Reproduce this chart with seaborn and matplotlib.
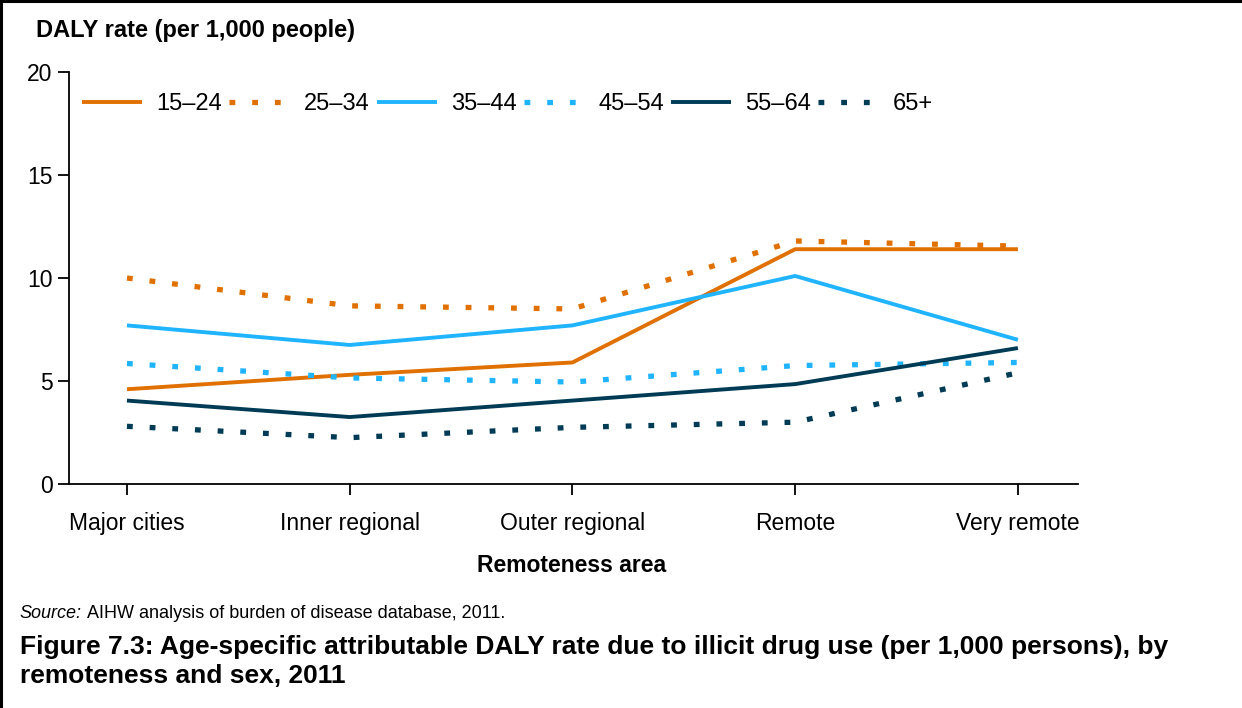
import numpy as np
import pandas as pd
import matplotlib
matplotlib.use("Agg")
import matplotlib.pyplot as plt
from matplotlib.lines import Line2D
import seaborn as sns

areas = ["Major cities", "Inner regional", "Outer regional", "Remote", "Very remote"]
ages = ["15\u201324", "25\u201334", "35\u201344", "45\u201354", "55\u201364", "65+"]

r15_24 = [4.6, 5.3, 5.9, 11.4, 11.4]
r25_34 = [10.0, 8.65, 8.5, 11.8, 11.55]
r35_44 = [7.7, 6.75, 7.7, 10.1, 7.0]
r45_54 = [5.85, 5.15, 4.95, 5.75, 5.9]
r55_64 = [4.05, 3.25, 4.05, 4.85, 6.6]
r65_plus = [2.8, 2.25, 2.75, 3.0, 5.4]

orange = "#E07000"
blue = "#20B4FF"
navy = "#003B55"
colors = {ages[0]: orange, ages[1]: orange, ages[2]: blue,
          ages[3]: blue, ages[4]: navy, ages[5]: navy}
dot = (1.1, 3.2)
dashes = {ages[0]: "", ages[1]: dot, ages[2]: "",
          ages[3]: dot, ages[4]: "", ages[5]: dot}

rows = []
for age, vals in zip(ages, [r15_24, r25_34, r35_44, r45_54, r55_64, r65_plus]):
    for i, v in enumerate(vals):
        rows.append({"area": i, "age": age, "rate": v})
df = pd.DataFrame(rows)

sns.set_theme(style="ticks")
plt.rcParams['font.family'] = ['Liberation Sans', 'DejaVu Sans']
plt.rcParams['text.color'] = 'black'
plt.rcParams['xtick.color'] = 'black'
plt.rcParams['ytick.color'] = 'black'

fig = plt.figure(figsize=(12.42, 7.08), dpi=100)
ax = fig.add_axes([0.0556, 0.3164, 0.8124, 0.5818])

sns.lineplot(data=df, x="area", y="rate", hue="age", style="age",
             palette=colors, dashes=dashes, hue_order=ages, style_order=ages,
             legend=False, ax=ax)
for ln, age in zip(ax.lines, ages):
    if dashes[age] == "":
        ln.set_linewidth(2.8)
    else:
        ln.set_linewidth(3.8)
        ln.set_dash_capstyle("butt")
    ln.set_solid_capstyle("butt")

ax.set_xlim(-0.26, 4.27)
ax.set_ylim(0, 20)
ax.set_yticks([0, 5, 10, 15, 20])
ax.set_xticks(range(len(areas)))
ax.set_xticklabels(areas)
ax.tick_params(axis="both", labelsize=16.5, labelcolor="black", length=8, width=1.3)
ax.tick_params(axis="x", pad=12)
ax.tick_params(axis="y", pad=4)
for s in ["top", "right"]:
    ax.spines[s].set_visible(False)
for s in ["left", "bottom"]:
    ax.spines[s].set_linewidth(1.3)
    ax.spines[s].set_color("black")
ax.set_xlabel("")
ax.set_ylabel("")

ax.legend(handles=ax.lines, labels=ages, ncol=6, loc="upper left",
          bbox_to_anchor=(-0.008, 1.0), frameon=False, fontsize=17,
          handlelength=2.55, handletextpad=0.6, columnspacing=0.3)

fig.text(0.029, 0.957, "DALY rate (per 1,000 people)", fontsize=17,
         fontweight="bold", ha="left", va="center")
fig.text(0.4605, 0.2006, "Remoteness area", fontsize=16.5, fontweight="bold",
         ha="center", va="center")

src = fig.text(0.016, 0.133, "Source:", fontsize=13, style="italic",
               ha="left", va="center")
fig.canvas.draw()
bb = src.get_window_extent(renderer=fig.canvas.get_renderer())
fig.text((bb.x1 + 5) / fig.bbox.width, 0.133,
         "AIHW analysis of burden of disease database, 2011.",
         fontsize=13, ha="left", va="center")
fig.text(0.016, 0.103,
         "Figure 7.3: Age-specific attributable DALY rate due to illicit drug use (per 1,000 persons), by\nremoteness and sex, 2011",
         fontsize=19, fontweight="bold", ha="left", va="top", linespacing=1.25)

fig.add_artist(Line2D([0, 1], [0.998, 0.998], transform=fig.transFigure,
                      color="black", linewidth=2.2))
fig.add_artist(Line2D([0.001, 0.001], [0, 1], transform=fig.transFigure,
                      color="black", linewidth=2.2))

fig.savefig("out.png", dpi=100, facecolor="white")
